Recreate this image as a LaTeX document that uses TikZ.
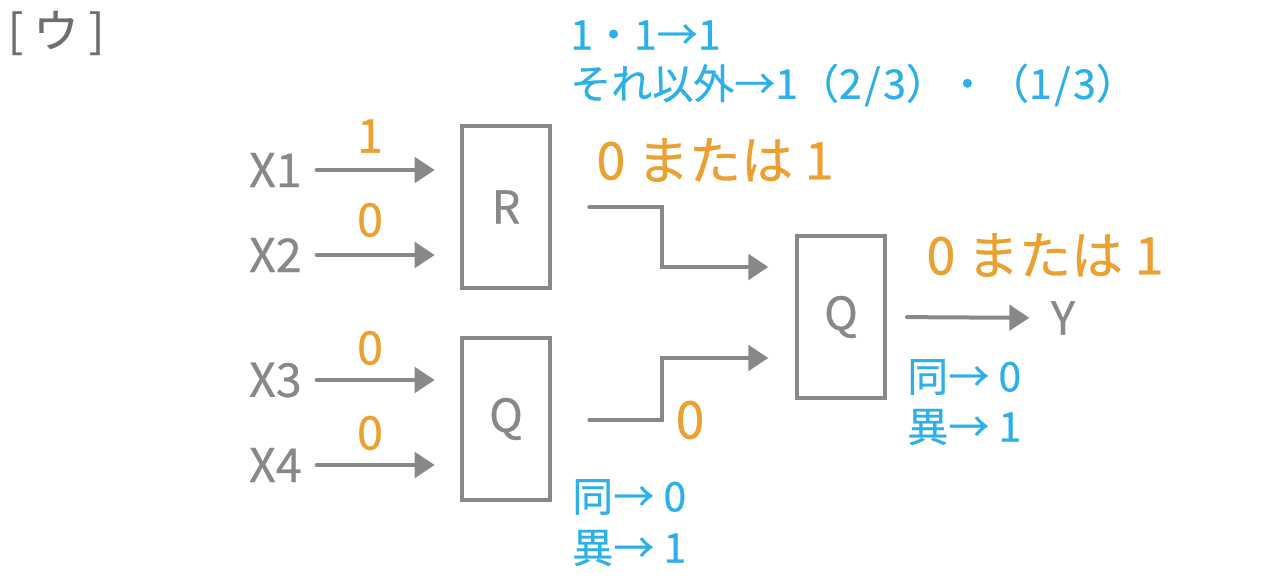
\documentclass[tikz,border=0pt]{standalone}
\usepackage{fontspec}
\setmainfont{Noto Sans CJK JP}[FakeBold=0.6]
\usepackage{tikz}
\usetikzlibrary{arrows.meta,positioning,calc}
\definecolor{WireGray}{HTML}{888888}
\definecolor{TitleGray}{HTML}{6E6E6E}
\definecolor{BitOrange}{HTML}{EBA032}
\definecolor{RuleBlue}{HTML}{2DB0EA}

\begin{document}
\begin{tikzpicture}[
	x=0.75pt, y=-0.75pt,
	gate/.style={draw=WireGray, line width=3pt, minimum width=66pt, minimum height=122pt,
		inner sep=0pt, text=WireGray, font=\fontsize{34}{36}\selectfont},
	inp/.style={anchor=east, inner sep=0pt, text=WireGray, font=\fontsize{35}{38}\selectfont},
	bit/.style={text=BitOrange, inner sep=0pt, font=\fontsize{35}{38}\selectfont},
	bigbit/.style={text=BitOrange, inner sep=0pt, font=\fontsize{39}{42}\selectfont},
	rule/.style={anchor=west, text=RuleBlue, inner sep=0pt, font=\fontsize{30.75}{34}\selectfont},
	arrow/.style={-{Triangle[length=15pt, width=19pt]}, draw=WireGray, line width=3pt, line cap=round}
]
\useasboundingbox (0,0) rectangle (1274,584);

\node[text=TitleGray, font=\fontsize{34}{36}\selectfont] (title) at (56,33) {[ ウ ]};

% inputs and gates
\node[inp] (x1) at (302,170) {X1};
\node[inp] (x2) at (302,255) {X2};
\node[inp] (x3) at (302,380) {X3};
\node[inp] (x4) at (302,465) {X4};
\node[gate] (r) at (506,207) {R};
\node[gate] (qa) at (506,419) {Q};
\node[gate] (qb) at (841,317) {Q};
\node[text=WireGray, inner sep=0pt, font=\fontsize{34}{36}\selectfont] (y) at (1063,318) {Y};

\draw[arrow, shorten <=11pt, shorten >=19pt] (x1.east) -- (x1 -| r.west);
\draw[arrow, shorten <=11pt, shorten >=19pt] (x2.east) -- (x2 -| r.west);
\draw[arrow, shorten <=11pt, shorten >=19pt] (x3.east) -- (x3 -| qa.west);
\draw[arrow, shorten <=11pt, shorten >=19pt] (x4.east) -- (x4 -| qa.west);
\draw[arrow, shorten <=28pt, shorten >=20pt] (r.east) -- ++(110,0) |- ([yshift=37.5pt]qb.west);
\draw[arrow, shorten <=28pt, shorten >=20pt] ([yshift=-0.75pt]qa.east) -- ++(110,0) |- ([yshift=-30.75pt]qb.west);
\draw[arrow, shorten <=15pt, shorten >=16pt] (qb.east) -- (y.west);

% values
\node[bit] (v1) at (370,136) {1};
\node[bit] (v2) at (370,220) {0};
\node[bit] (v3) at (370,348) {0};
\node[bit] (v4) at (370,433) {0};
\node[bigbit] (vr) at (715,160) {0 または 1};
\node[bigbit] (vq) at (690,420) {0};
\node[bigbit] (vy) at (1045,255) {0 または 1};

% gate rules
\node[rule] (rr1) at (570,35) {1・1→1};
\node[rule] (rr2) at (570,85) {それ以外→1（2\kern2pt/\kern2pt3）・（1\kern2pt/\kern2pt3）};
\node[rule] (qa1) at (572,497) {同→ 0};
\node[rule] (qa2) at (572,548) {異→ 1};
\node[rule] (qb1) at (907,377) {同→ 0};
\node[rule] (qb2) at (907,427) {異→ 1};
\end{tikzpicture}
\end{document}
